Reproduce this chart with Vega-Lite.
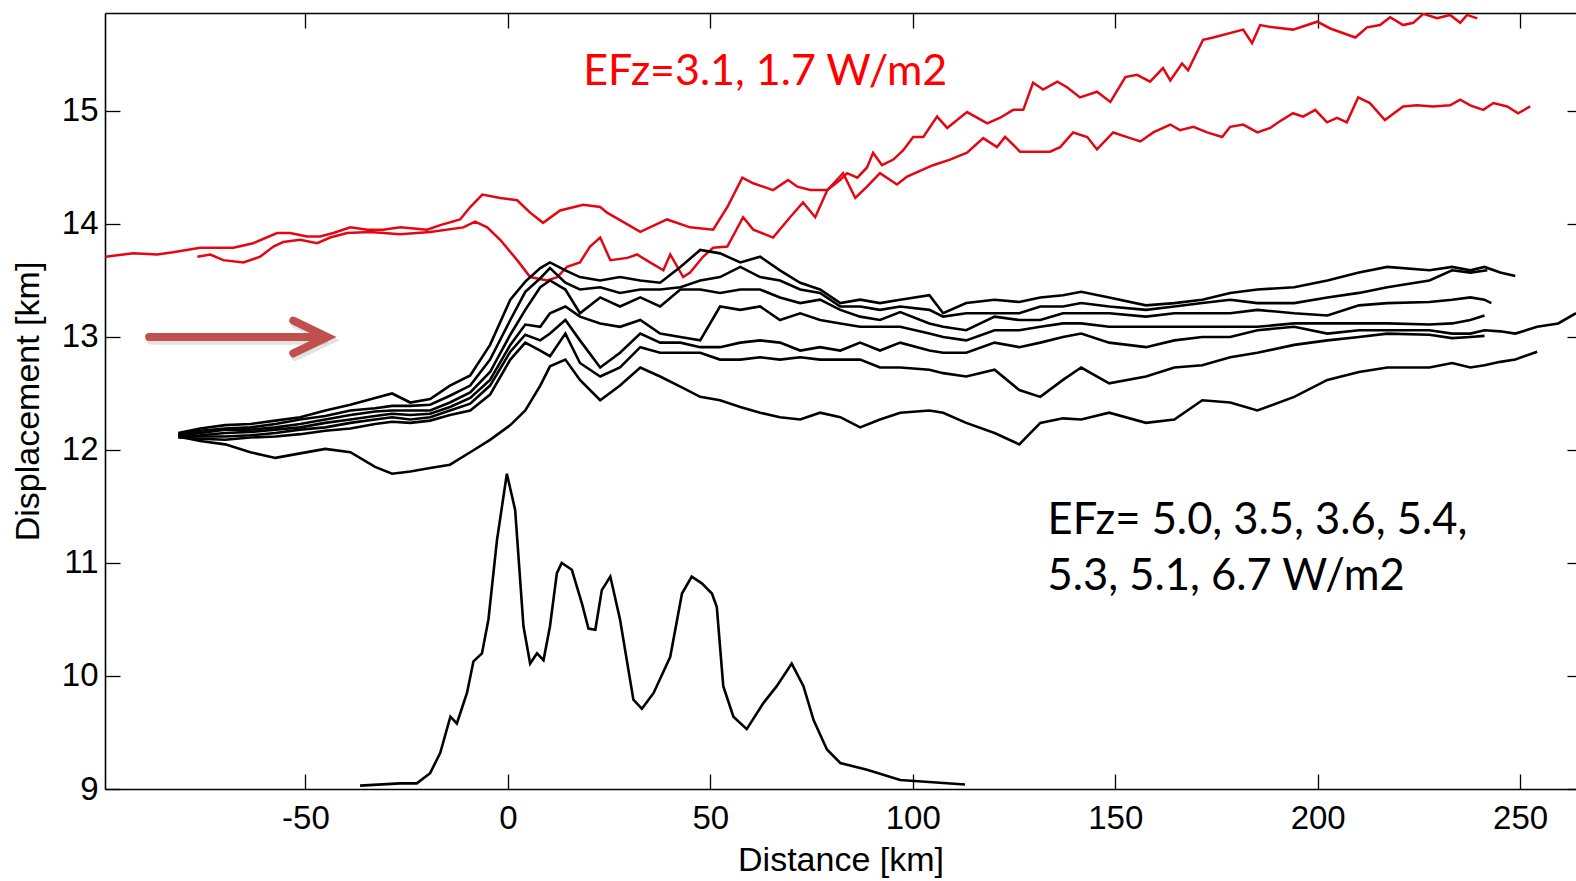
{
  "$schema": "https://vega.github.io/schema/vega-lite/v6.json",
  "width": 1471,
  "height": 776,
  "autosize": {"type": "none"},
  "padding": {"left": 105, "top": 13, "right": 0, "bottom": 92},
  "background": "white",
  "config": {"view": {"stroke": null}},
  "datasets": {
    "red": [
      {"s":"a","x":-99.4,"y":13.71},{"s":"a","x":-92.5,"y":13.74},{"s":"a","x":-86.6,"y":13.73},{"s":"a","x":-82.7,"y":13.75},{"s":"a","x":-76.0,"y":13.79},{"s":"a","x":-67.8,"y":13.79},{"s":"a","x":-62.9,"y":13.83},{"s":"a","x":-57.0,"y":13.92},{"s":"a","x":-53.8,"y":13.92},{"s":"a","x":-49.6,"y":13.89},{"s":"a","x":-46.4,"y":13.89},{"s":"a","x":-43.1,"y":13.92},{"s":"a","x":-38.9,"y":13.97},{"s":"a","x":-34.7,"y":13.95},{"s":"a","x":-30.8,"y":13.95},{"s":"a","x":-26.6,"y":13.97},{"s":"a","x":-19.9,"y":13.95},{"s":"a","x":-16.7,"y":13.99},{"s":"a","x":-11.8,"y":14.04},{"s":"a","x":-9.3,"y":14.15},{"s":"a","x":-6.3,"y":14.26},{"s":"a","x":-1.9,"y":14.23},{"s":"a","x":2.3,"y":14.21},{"s":"a","x":5.5,"y":14.10},{"s":"a","x":8.7,"y":14.01},{"s":"a","x":12.9,"y":14.12},{"s":"a","x":18.6,"y":14.17},{"s":"a","x":22.8,"y":14.15},{"s":"a","x":24.5,"y":14.10},{"s":"a","x":32.7,"y":13.93},{"s":"a","x":39.3,"y":14.04},{"s":"a","x":45.0,"y":13.97},{"s":"a","x":50.7,"y":13.95},{"s":"a","x":54.2,"y":14.15},{"s":"a","x":57.9,"y":14.41},{"s":"a","x":60.6,"y":14.36},{"s":"a","x":65.5,"y":14.30},{"s":"a","x":69.2,"y":14.39},{"s":"a","x":71.5,"y":14.33},{"s":"a","x":74.7,"y":14.30},{"s":"a","x":78.9,"y":14.30},{"s":"a","x":82.1,"y":14.39},{"s":"a","x":83.8,"y":14.45},{"s":"a","x":86.3,"y":14.41},{"s":"a","x":88.7,"y":14.50},{"s":"a","x":90.2,"y":14.63},{"s":"a","x":92.4,"y":14.52},{"s":"a","x":95.2,"y":14.57},{"s":"a","x":97.6,"y":14.65},{"s":"a","x":100.1,"y":14.77},{"s":"a","x":102.6,"y":14.77},{"s":"a","x":106.0,"y":14.95},{"s":"a","x":108.5,"y":14.85},{"s":"a","x":113.4,"y":14.99},{"s":"a","x":118.4,"y":14.89},{"s":"a","x":121.6,"y":14.94},{"s":"a","x":124.8,"y":15.01},{"s":"a","x":127.3,"y":15.01},{"s":"a","x":129.7,"y":15.25},{"s":"a","x":132.2,"y":15.19},{"s":"a","x":135.7,"y":15.26},{"s":"a","x":138.1,"y":15.21},{"s":"a","x":141.3,"y":15.12},{"s":"a","x":145.5,"y":15.17},{"s":"a","x":148.8,"y":15.08},{"s":"a","x":152.5,"y":15.30},{"s":"a","x":155.4,"y":15.32},{"s":"a","x":158.6,"y":15.26},{"s":"a","x":161.8,"y":15.38},{"s":"a","x":163.6,"y":15.27},{"s":"a","x":166.5,"y":15.42},{"s":"a","x":168.0,"y":15.36},{"s":"a","x":171.7,"y":15.63},{"s":"a","x":174.2,"y":15.65},{"s":"a","x":181.6,"y":15.72},{"s":"a","x":183.8,"y":15.60},{"s":"a","x":185.8,"y":15.76},{"s":"a","x":189.0,"y":15.74},{"s":"a","x":193.9,"y":15.72},{"s":"a","x":199.9,"y":15.79},{"s":"a","x":203.1,"y":15.73},{"s":"a","x":209.3,"y":15.65},{"s":"a","x":212.2,"y":15.74},{"s":"a","x":215.4,"y":15.76},{"s":"a","x":217.9,"y":15.83},{"s":"a","x":221.1,"y":15.76},{"s":"a","x":223.6,"y":15.78},{"s":"a","x":226.1,"y":15.86},{"s":"a","x":229.5,"y":15.82},{"s":"a","x":232.7,"y":15.85},{"s":"a","x":235.2,"y":15.78},{"s":"a","x":236.9,"y":15.85},{"s":"a","x":239.4,"y":15.82},
      {"s":"b","x":-76.7,"y":13.71},{"s":"b","x":-73.5,"y":13.73},{"s":"b","x":-70.3,"y":13.68},{"s":"b","x":-65.3,"y":13.66},{"s":"b","x":-61.2,"y":13.71},{"s":"b","x":-57.9,"y":13.80},{"s":"b","x":-55.5,"y":13.84},{"s":"b","x":-51.3,"y":13.86},{"s":"b","x":-47.1,"y":13.83},{"s":"b","x":-43.9,"y":13.88},{"s":"b","x":-39.7,"y":13.92},{"s":"b","x":-34.0,"y":13.93},{"s":"b","x":-26.6,"y":13.91},{"s":"b","x":-19.2,"y":13.93},{"s":"b","x":-11.0,"y":13.97},{"s":"b","x":-8.1,"y":14.02},{"s":"b","x":-5.1,"y":13.97},{"s":"b","x":-1.9,"y":13.86},{"s":"b","x":2.3,"y":13.68},{"s":"b","x":5.5,"y":13.53},{"s":"b","x":9.7,"y":13.50},{"s":"b","x":12.2,"y":13.53},{"s":"b","x":14.6,"y":13.62},{"s":"b","x":17.8,"y":13.66},{"s":"b","x":20.3,"y":13.80},{"s":"b","x":22.8,"y":13.88},{"s":"b","x":25.3,"y":13.68},{"s":"b","x":29.5,"y":13.70},{"s":"b","x":31.9,"y":13.73},{"s":"b","x":35.1,"y":13.66},{"s":"b","x":38.4,"y":13.59},{"s":"b","x":40.1,"y":13.73},{"s":"b","x":43.3,"y":13.53},{"s":"b","x":45.0,"y":13.57},{"s":"b","x":48.2,"y":13.71},{"s":"b","x":50.7,"y":13.79},{"s":"b","x":54.2,"y":13.80},{"s":"b","x":58.1,"y":14.06},{"s":"b","x":60.6,"y":13.95},{"s":"b","x":65.5,"y":13.88},{"s":"b","x":69.7,"y":14.06},{"s":"b","x":72.9,"y":14.19},{"s":"b","x":75.9,"y":14.06},{"s":"b","x":78.9,"y":14.30},{"s":"b","x":82.8,"y":14.45},{"s":"b","x":85.8,"y":14.23},{"s":"b","x":88.7,"y":14.33},{"s":"b","x":91.9,"y":14.45},{"s":"b","x":96.1,"y":14.35},{"s":"b","x":98.6,"y":14.42},{"s":"b","x":105.0,"y":14.52},{"s":"b","x":109.2,"y":14.57},{"s":"b","x":113.4,"y":14.63},{"s":"b","x":117.4,"y":14.76},{"s":"b","x":120.8,"y":14.68},{"s":"b","x":122.8,"y":14.77},{"s":"b","x":126.5,"y":14.64},{"s":"b","x":133.9,"y":14.64},{"s":"b","x":136.4,"y":14.68},{"s":"b","x":139.6,"y":14.81},{"s":"b","x":143.1,"y":14.77},{"s":"b","x":145.5,"y":14.66},{"s":"b","x":149.5,"y":14.81},{"s":"b","x":153.7,"y":14.76},{"s":"b","x":156.2,"y":14.73},{"s":"b","x":159.4,"y":14.81},{"s":"b","x":163.6,"y":14.88},{"s":"b","x":166.0,"y":14.83},{"s":"b","x":169.3,"y":14.86},{"s":"b","x":172.7,"y":14.81},{"s":"b","x":176.4,"y":14.77},{"s":"b","x":178.4,"y":14.86},{"s":"b","x":181.6,"y":14.88},{"s":"b","x":185.1,"y":14.81},{"s":"b","x":188.3,"y":14.85},{"s":"b","x":190.3,"y":14.90},{"s":"b","x":193.9,"y":14.98},{"s":"b","x":196.4,"y":14.95},{"s":"b","x":199.4,"y":15.01},{"s":"b","x":202.3,"y":14.90},{"s":"b","x":204.8,"y":14.94},{"s":"b","x":207.2,"y":14.90},{"s":"b","x":210.0,"y":15.12},{"s":"b","x":212.9,"y":15.07},{"s":"b","x":216.6,"y":14.92},{"s":"b","x":221.1,"y":15.04},{"s":"b","x":224.5,"y":15.05},{"s":"b","x":228.5,"y":15.04},{"s":"b","x":232.7,"y":15.05},{"s":"b","x":235.2,"y":15.10},{"s":"b","x":237.7,"y":15.05},{"s":"b","x":240.9,"y":15.01},{"s":"b","x":243.4,"y":15.07},{"s":"b","x":246.8,"y":15.04},{"s":"b","x":249.5,"y":14.98},{"s":"b","x":252.5,"y":15.04}
    ],
    "blk": [
      {"s":"k1","x":-81.4,"y":12.15},{"s":"k1","x":-76.0,"y":12.19},{"s":"k1","x":-69.8,"y":12.22},{"s":"k1","x":-63.6,"y":12.23},{"s":"k1","x":-57.4,"y":12.26},{"s":"k1","x":-51.3,"y":12.29},{"s":"k1","x":-45.1,"y":12.35},{"s":"k1","x":-38.9,"y":12.40},{"s":"k1","x":-32.8,"y":12.46},{"s":"k1","x":-28.6,"y":12.50},{"s":"k1","x":-24.1,"y":12.42},{"s":"k1","x":-19.2,"y":12.45},{"s":"k1","x":-14.3,"y":12.57},{"s":"k1","x":-9.3,"y":12.66},{"s":"k1","x":-4.4,"y":12.93},{"s":"k1","x":0.6,"y":13.33},{"s":"k1","x":4.3,"y":13.49},{"s":"k1","x":8.0,"y":13.61},{"s":"k1","x":10.4,"y":13.66},{"s":"k1","x":14.2,"y":13.59},{"s":"k1","x":17.8,"y":13.53},{"s":"k1","x":22.8,"y":13.50},{"s":"k1","x":27.7,"y":13.53},{"s":"k1","x":32.7,"y":13.50},{"s":"k1","x":37.6,"y":13.48},{"s":"k1","x":42.6,"y":13.62},{"s":"k1","x":47.5,"y":13.77},{"s":"k1","x":52.4,"y":13.74},{"s":"k1","x":57.4,"y":13.66},{"s":"k1","x":62.3,"y":13.71},{"s":"k1","x":67.2,"y":13.59},{"s":"k1","x":72.2,"y":13.48},{"s":"k1","x":77.1,"y":13.42},{"s":"k1","x":82.1,"y":13.30},{"s":"k1","x":87.0,"y":13.33},{"s":"k1","x":91.9,"y":13.30},{"s":"k1","x":96.9,"y":13.33},{"s":"k1","x":104.1,"y":13.37},{"s":"k1","x":107.5,"y":13.21},{"s":"k1","x":113.2,"y":13.30},{"s":"k1","x":120.2,"y":13.33},{"s":"k1","x":126.3,"y":13.31},{"s":"k1","x":131.5,"y":13.35},{"s":"k1","x":137.1,"y":13.37},{"s":"k1","x":141.6,"y":13.40},{"s":"k1","x":148.5,"y":13.35},{"s":"k1","x":157.6,"y":13.28},{"s":"k1","x":164.6,"y":13.30},{"s":"k1","x":171.5,"y":13.33},{"s":"k1","x":178.4,"y":13.39},{"s":"k1","x":185.1,"y":13.42},{"s":"k1","x":194.2,"y":13.44},{"s":"k1","x":202.4,"y":13.50},{"s":"k1","x":210.2,"y":13.57},{"s":"k1","x":217.2,"y":13.62},{"s":"k1","x":227.6,"y":13.59},{"s":"k1","x":233.2,"y":13.62},{"s":"k1","x":237.7,"y":13.59},{"s":"k1","x":241.2,"y":13.62},{"s":"k1","x":245.1,"y":13.57},{"s":"k1","x":248.8,"y":13.54},
      {"s":"k2","x":-81.4,"y":12.14},{"s":"k2","x":-76.0,"y":12.17},{"s":"k2","x":-69.8,"y":12.19},{"s":"k2","x":-63.6,"y":12.20},{"s":"k2","x":-57.4,"y":12.23},{"s":"k2","x":-51.3,"y":12.27},{"s":"k2","x":-45.1,"y":12.30},{"s":"k2","x":-38.9,"y":12.35},{"s":"k2","x":-32.8,"y":12.37},{"s":"k2","x":-28.6,"y":12.39},{"s":"k2","x":-24.1,"y":12.39},{"s":"k2","x":-19.2,"y":12.40},{"s":"k2","x":-14.3,"y":12.48},{"s":"k2","x":-9.3,"y":12.57},{"s":"k2","x":-4.4,"y":12.80},{"s":"k2","x":0.6,"y":13.15},{"s":"k2","x":4.3,"y":13.40},{"s":"k2","x":8.0,"y":13.52},{"s":"k2","x":10.4,"y":13.61},{"s":"k2","x":14.2,"y":13.48},{"s":"k2","x":17.8,"y":13.42},{"s":"k2","x":22.8,"y":13.44},{"s":"k2","x":27.7,"y":13.39},{"s":"k2","x":32.7,"y":13.42},{"s":"k2","x":37.6,"y":13.42},{"s":"k2","x":42.6,"y":13.44},{"s":"k2","x":47.5,"y":13.50},{"s":"k2","x":52.4,"y":13.53},{"s":"k2","x":57.4,"y":13.62},{"s":"k2","x":62.3,"y":13.53},{"s":"k2","x":67.2,"y":13.50},{"s":"k2","x":72.2,"y":13.42},{"s":"k2","x":77.1,"y":13.39},{"s":"k2","x":82.1,"y":13.27},{"s":"k2","x":87.0,"y":13.27},{"s":"k2","x":91.9,"y":13.24},{"s":"k2","x":96.9,"y":13.27},{"s":"k2","x":104.1,"y":13.24},{"s":"k2","x":107.5,"y":13.18},{"s":"k2","x":113.2,"y":13.21},{"s":"k2","x":120.2,"y":13.21},{"s":"k2","x":126.3,"y":13.21},{"s":"k2","x":131.5,"y":13.27},{"s":"k2","x":137.1,"y":13.27},{"s":"k2","x":141.6,"y":13.30},{"s":"k2","x":148.5,"y":13.27},{"s":"k2","x":157.6,"y":13.24},{"s":"k2","x":164.6,"y":13.27},{"s":"k2","x":171.5,"y":13.30},{"s":"k2","x":178.4,"y":13.33},{"s":"k2","x":185.1,"y":13.30},{"s":"k2","x":194.2,"y":13.30},{"s":"k2","x":202.4,"y":13.35},{"s":"k2","x":210.2,"y":13.39},{"s":"k2","x":217.2,"y":13.44},{"s":"k2","x":227.6,"y":13.50},{"s":"k2","x":233.2,"y":13.59},{"s":"k2","x":237.7,"y":13.57},{"s":"k2","x":241.9,"y":13.59},
      {"s":"k3","x":-81.4,"y":12.13},{"s":"k3","x":-76.0,"y":12.15},{"s":"k3","x":-69.8,"y":12.18},{"s":"k3","x":-63.6,"y":12.18},{"s":"k3","x":-57.4,"y":12.20},{"s":"k3","x":-51.3,"y":12.23},{"s":"k3","x":-45.1,"y":12.27},{"s":"k3","x":-38.9,"y":12.31},{"s":"k3","x":-32.8,"y":12.34},{"s":"k3","x":-28.6,"y":12.35},{"s":"k3","x":-24.1,"y":12.35},{"s":"k3","x":-19.2,"y":12.35},{"s":"k3","x":-14.3,"y":12.42},{"s":"k3","x":-9.3,"y":12.51},{"s":"k3","x":-4.4,"y":12.69},{"s":"k3","x":0.6,"y":13.02},{"s":"k3","x":4.3,"y":13.24},{"s":"k3","x":8.0,"y":13.44},{"s":"k3","x":10.4,"y":13.50},{"s":"k3","x":14.2,"y":13.42},{"s":"k3","x":17.8,"y":13.21},{"s":"k3","x":22.8,"y":13.35},{"s":"k3","x":27.7,"y":13.27},{"s":"k3","x":32.7,"y":13.35},{"s":"k3","x":37.6,"y":13.27},{"s":"k3","x":42.6,"y":13.42},{"s":"k3","x":47.5,"y":13.42},{"s":"k3","x":52.4,"y":13.39},{"s":"k3","x":57.4,"y":13.42},{"s":"k3","x":62.3,"y":13.42},{"s":"k3","x":67.2,"y":13.35},{"s":"k3","x":72.2,"y":13.30},{"s":"k3","x":77.1,"y":13.33},{"s":"k3","x":82.1,"y":13.24},{"s":"k3","x":87.0,"y":13.18},{"s":"k3","x":91.9,"y":13.15},{"s":"k3","x":96.9,"y":13.22},{"s":"k3","x":104.1,"y":13.12},{"s":"k3","x":107.5,"y":13.09},{"s":"k3","x":113.2,"y":13.06},{"s":"k3","x":120.2,"y":13.18},{"s":"k3","x":126.3,"y":13.15},{"s":"k3","x":131.5,"y":13.15},{"s":"k3","x":137.1,"y":13.21},{"s":"k3","x":141.6,"y":13.21},{"s":"k3","x":148.5,"y":13.21},{"s":"k3","x":157.6,"y":13.18},{"s":"k3","x":164.6,"y":13.21},{"s":"k3","x":171.5,"y":13.21},{"s":"k3","x":178.4,"y":13.21},{"s":"k3","x":185.1,"y":13.24},{"s":"k3","x":194.2,"y":13.21},{"s":"k3","x":202.4,"y":13.19},{"s":"k3","x":210.2,"y":13.28},{"s":"k3","x":217.2,"y":13.30},{"s":"k3","x":227.6,"y":13.31},{"s":"k3","x":233.2,"y":13.33},{"s":"k3","x":237.7,"y":13.35},{"s":"k3","x":241.2,"y":13.33},{"s":"k3","x":242.9,"y":13.30},
      {"s":"k4","x":-81.4,"y":12.12},{"s":"k4","x":-76.0,"y":12.13},{"s":"k4","x":-69.8,"y":12.15},{"s":"k4","x":-63.6,"y":12.16},{"s":"k4","x":-57.4,"y":12.18},{"s":"k4","x":-51.3,"y":12.20},{"s":"k4","x":-45.1,"y":12.24},{"s":"k4","x":-38.9,"y":12.27},{"s":"k4","x":-32.8,"y":12.30},{"s":"k4","x":-28.6,"y":12.32},{"s":"k4","x":-24.1,"y":12.31},{"s":"k4","x":-19.2,"y":12.32},{"s":"k4","x":-14.3,"y":12.38},{"s":"k4","x":-9.3,"y":12.46},{"s":"k4","x":-4.4,"y":12.62},{"s":"k4","x":0.6,"y":12.93},{"s":"k4","x":4.3,"y":13.11},{"s":"k4","x":8.0,"y":13.09},{"s":"k4","x":10.4,"y":13.21},{"s":"k4","x":14.2,"y":13.27},{"s":"k4","x":17.8,"y":13.18},{"s":"k4","x":22.8,"y":13.12},{"s":"k4","x":27.7,"y":13.09},{"s":"k4","x":32.7,"y":13.15},{"s":"k4","x":37.6,"y":13.03},{"s":"k4","x":42.6,"y":13.00},{"s":"k4","x":47.5,"y":12.97},{"s":"k4","x":52.4,"y":13.27},{"s":"k4","x":57.4,"y":13.24},{"s":"k4","x":62.3,"y":13.27},{"s":"k4","x":67.2,"y":13.15},{"s":"k4","x":72.2,"y":13.21},{"s":"k4","x":77.1,"y":13.15},{"s":"k4","x":82.1,"y":13.12},{"s":"k4","x":87.0,"y":13.09},{"s":"k4","x":91.9,"y":13.09},{"s":"k4","x":96.9,"y":13.09},{"s":"k4","x":104.1,"y":13.03},{"s":"k4","x":107.5,"y":13.00},{"s":"k4","x":113.2,"y":12.97},{"s":"k4","x":120.2,"y":13.06},{"s":"k4","x":126.3,"y":13.06},{"s":"k4","x":131.5,"y":13.09},{"s":"k4","x":137.1,"y":13.12},{"s":"k4","x":141.6,"y":13.12},{"s":"k4","x":148.5,"y":13.09},{"s":"k4","x":157.6,"y":13.09},{"s":"k4","x":164.6,"y":13.09},{"s":"k4","x":171.5,"y":13.09},{"s":"k4","x":178.4,"y":13.09},{"s":"k4","x":185.1,"y":13.09},{"s":"k4","x":194.2,"y":13.12},{"s":"k4","x":202.4,"y":13.12},{"s":"k4","x":210.2,"y":13.12},{"s":"k4","x":217.2,"y":13.12},{"s":"k4","x":227.6,"y":13.11},{"s":"k4","x":233.2,"y":13.12},{"s":"k4","x":237.7,"y":13.15},{"s":"k4","x":241.2,"y":13.19},
      {"s":"k5","x":-81.4,"y":12.12},{"s":"k5","x":-76.0,"y":12.12},{"s":"k5","x":-69.8,"y":12.12},{"s":"k5","x":-63.6,"y":12.13},{"s":"k5","x":-57.4,"y":12.15},{"s":"k5","x":-51.3,"y":12.18},{"s":"k5","x":-45.1,"y":12.20},{"s":"k5","x":-38.9,"y":12.24},{"s":"k5","x":-32.8,"y":12.27},{"s":"k5","x":-28.6,"y":12.29},{"s":"k5","x":-24.1,"y":12.27},{"s":"k5","x":-19.2,"y":12.29},{"s":"k5","x":-14.3,"y":12.35},{"s":"k5","x":-9.3,"y":12.41},{"s":"k5","x":-4.4,"y":12.57},{"s":"k5","x":0.6,"y":12.87},{"s":"k5","x":4.3,"y":13.02},{"s":"k5","x":8.0,"y":12.97},{"s":"k5","x":10.4,"y":13.03},{"s":"k5","x":14.2,"y":13.15},{"s":"k5","x":17.8,"y":12.97},{"s":"k5","x":22.8,"y":12.73},{"s":"k5","x":27.7,"y":12.86},{"s":"k5","x":32.7,"y":13.03},{"s":"k5","x":37.6,"y":12.95},{"s":"k5","x":42.6,"y":12.95},{"s":"k5","x":47.5,"y":12.91},{"s":"k5","x":52.4,"y":12.91},{"s":"k5","x":57.4,"y":12.95},{"s":"k5","x":62.3,"y":12.97},{"s":"k5","x":67.2,"y":12.95},{"s":"k5","x":72.2,"y":12.88},{"s":"k5","x":77.1,"y":12.91},{"s":"k5","x":82.1,"y":12.88},{"s":"k5","x":87.0,"y":12.95},{"s":"k5","x":91.9,"y":12.88},{"s":"k5","x":96.9,"y":12.95},{"s":"k5","x":104.1,"y":12.88},{"s":"k5","x":107.5,"y":12.86},{"s":"k5","x":113.2,"y":12.86},{"s":"k5","x":120.2,"y":12.95},{"s":"k5","x":126.3,"y":12.91},{"s":"k5","x":131.5,"y":12.95},{"s":"k5","x":137.1,"y":13.00},{"s":"k5","x":141.6,"y":13.03},{"s":"k5","x":148.5,"y":12.95},{"s":"k5","x":157.6,"y":12.91},{"s":"k5","x":164.6,"y":12.97},{"s":"k5","x":171.5,"y":13.00},{"s":"k5","x":178.4,"y":13.00},{"s":"k5","x":185.1,"y":13.06},{"s":"k5","x":194.2,"y":13.09},{"s":"k5","x":202.4,"y":13.03},{"s":"k5","x":210.2,"y":13.06},{"s":"k5","x":217.2,"y":13.06},{"s":"k5","x":227.6,"y":13.06},{"s":"k5","x":233.2,"y":13.03},{"s":"k5","x":237.7,"y":13.03},{"s":"k5","x":241.2,"y":13.06},{"s":"k5","x":245.1,"y":13.05},{"s":"k5","x":248.8,"y":13.03},{"s":"k5","x":254.2,"y":13.09},{"s":"k5","x":259.4,"y":13.12},{"s":"k5","x":263.8,"y":13.21},
      {"s":"k6","x":-81.4,"y":12.11},{"s":"k6","x":-76.0,"y":12.10},{"s":"k6","x":-69.8,"y":12.09},{"s":"k6","x":-63.6,"y":12.11},{"s":"k6","x":-57.4,"y":12.12},{"s":"k6","x":-51.3,"y":12.14},{"s":"k6","x":-45.1,"y":12.17},{"s":"k6","x":-38.9,"y":12.19},{"s":"k6","x":-32.8,"y":12.23},{"s":"k6","x":-28.6,"y":12.25},{"s":"k6","x":-24.1,"y":12.24},{"s":"k6","x":-19.2,"y":12.26},{"s":"k6","x":-14.3,"y":12.31},{"s":"k6","x":-9.3,"y":12.35},{"s":"k6","x":-4.4,"y":12.49},{"s":"k6","x":0.6,"y":12.80},{"s":"k6","x":4.3,"y":12.95},{"s":"k6","x":8.0,"y":12.88},{"s":"k6","x":10.4,"y":12.83},{"s":"k6","x":14.2,"y":13.03},{"s":"k6","x":17.8,"y":12.77},{"s":"k6","x":22.8,"y":12.65},{"s":"k6","x":27.7,"y":12.73},{"s":"k6","x":32.7,"y":12.91},{"s":"k6","x":37.6,"y":12.86},{"s":"k6","x":42.6,"y":12.86},{"s":"k6","x":47.5,"y":12.86},{"s":"k6","x":52.4,"y":12.80},{"s":"k6","x":57.4,"y":12.80},{"s":"k6","x":62.3,"y":12.82},{"s":"k6","x":67.2,"y":12.80},{"s":"k6","x":72.2,"y":12.82},{"s":"k6","x":77.1,"y":12.80},{"s":"k6","x":82.1,"y":12.80},{"s":"k6","x":87.0,"y":12.80},{"s":"k6","x":91.9,"y":12.73},{"s":"k6","x":96.9,"y":12.73},{"s":"k6","x":104.1,"y":12.71},{"s":"k6","x":107.5,"y":12.68},{"s":"k6","x":113.2,"y":12.65},{"s":"k6","x":120.2,"y":12.71},{"s":"k6","x":126.3,"y":12.53},{"s":"k6","x":131.5,"y":12.47},{"s":"k6","x":137.1,"y":12.62},{"s":"k6","x":141.6,"y":12.73},{"s":"k6","x":148.5,"y":12.59},{"s":"k6","x":157.6,"y":12.65},{"s":"k6","x":164.6,"y":12.73},{"s":"k6","x":171.5,"y":12.75},{"s":"k6","x":178.4,"y":12.82},{"s":"k6","x":185.1,"y":12.86},{"s":"k6","x":194.2,"y":12.93},{"s":"k6","x":202.4,"y":12.97},{"s":"k6","x":210.2,"y":13.00},{"s":"k6","x":217.2,"y":13.03},{"s":"k6","x":227.6,"y":13.02},{"s":"k6","x":233.2,"y":12.99},{"s":"k6","x":237.7,"y":13.00},{"s":"k6","x":241.2,"y":13.01},
      {"s":"k7","x":-81.4,"y":12.12},{"s":"k7","x":-76.0,"y":12.08},{"s":"k7","x":-69.8,"y":12.05},{"s":"k7","x":-63.6,"y":11.98},{"s":"k7","x":-57.4,"y":11.93},{"s":"k7","x":-51.3,"y":11.97},{"s":"k7","x":-45.1,"y":12.01},{"s":"k7","x":-38.9,"y":11.98},{"s":"k7","x":-32.8,"y":11.85},{"s":"k7","x":-28.6,"y":11.79},{"s":"k7","x":-24.1,"y":11.81},{"s":"k7","x":-19.2,"y":11.84},{"s":"k7","x":-14.3,"y":11.87},{"s":"k7","x":-9.3,"y":11.98},{"s":"k7","x":-4.4,"y":12.09},{"s":"k7","x":0.6,"y":12.22},{"s":"k7","x":4.3,"y":12.35},{"s":"k7","x":8.0,"y":12.57},{"s":"k7","x":10.4,"y":12.74},{"s":"k7","x":14.2,"y":12.80},{"s":"k7","x":17.8,"y":12.62},{"s":"k7","x":22.8,"y":12.44},{"s":"k7","x":27.7,"y":12.57},{"s":"k7","x":32.7,"y":12.73},{"s":"k7","x":37.6,"y":12.65},{"s":"k7","x":42.6,"y":12.56},{"s":"k7","x":47.5,"y":12.47},{"s":"k7","x":52.4,"y":12.44},{"s":"k7","x":57.4,"y":12.38},{"s":"k7","x":62.3,"y":12.33},{"s":"k7","x":67.2,"y":12.29},{"s":"k7","x":72.2,"y":12.27},{"s":"k7","x":77.1,"y":12.33},{"s":"k7","x":82.1,"y":12.29},{"s":"k7","x":87.0,"y":12.20},{"s":"k7","x":91.9,"y":12.27},{"s":"k7","x":96.9,"y":12.33},{"s":"k7","x":104.1,"y":12.35},{"s":"k7","x":107.5,"y":12.33},{"s":"k7","x":113.2,"y":12.24},{"s":"k7","x":120.2,"y":12.15},{"s":"k7","x":126.3,"y":12.05},{"s":"k7","x":131.5,"y":12.24},{"s":"k7","x":137.1,"y":12.28},{"s":"k7","x":141.6,"y":12.27},{"s":"k7","x":148.5,"y":12.33},{"s":"k7","x":157.6,"y":12.24},{"s":"k7","x":164.6,"y":12.27},{"s":"k7","x":171.5,"y":12.44},{"s":"k7","x":178.4,"y":12.42},{"s":"k7","x":185.1,"y":12.35},{"s":"k7","x":194.2,"y":12.47},{"s":"k7","x":202.4,"y":12.62},{"s":"k7","x":210.2,"y":12.69},{"s":"k7","x":217.2,"y":12.73},{"s":"k7","x":227.6,"y":12.73},{"s":"k7","x":233.2,"y":12.77},{"s":"k7","x":237.7,"y":12.73},{"s":"k7","x":241.2,"y":12.75},{"s":"k7","x":245.1,"y":12.78},{"s":"k7","x":248.8,"y":12.80},{"s":"k7","x":254.2,"y":12.87}
    ],
    "topo": [
      {"x":-36.5,"y":9.03},{"x":-26.6,"y":9.05},{"x":-22.5,"y":9.05},{"x":-19.2,"y":9.14},{"x":-16.7,"y":9.32},{"x":-14.2,"y":9.64},{"x":-12.6,"y":9.58},{"x":-10.1,"y":9.85},{"x":-8.5,"y":10.13},{"x":-6.4,"y":10.20},{"x":-4.8,"y":10.50},{"x":-2.7,"y":11.20},{"x":-0.25,"y":11.79},{"x":1.8,"y":11.47},{"x":3.85,"y":10.44},{"x":5.5,"y":10.11},{"x":7.2,"y":10.20},{"x":8.8,"y":10.14},{"x":10.4,"y":10.44},{"x":12.1,"y":10.91},{"x":13.3,"y":11.0},{"x":15.8,"y":10.94},{"x":18.3,"y":10.64},{"x":19.9,"y":10.42},{"x":21.6,"y":10.41},{"x":23.2,"y":10.76},{"x":25.3,"y":10.88},{"x":27.7,"y":10.50},{"x":31.0,"y":9.79},{"x":33.1,"y":9.71},{"x":36.0,"y":9.85},{"x":40.1,"y":10.17},{"x":43.0,"y":10.73},{"x":45.4,"y":10.88},{"x":47.9,"y":10.82},{"x":50.4,"y":10.73},{"x":51.6,"y":10.61},{"x":53.2,"y":9.91},{"x":55.7,"y":9.64},{"x":59.0,"y":9.53},{"x":63.1,"y":9.76},{"x":66.4,"y":9.91},{"x":70.1,"y":10.11},{"x":73.0,"y":9.91},{"x":75.5,"y":9.61},{"x":78.8,"y":9.35},{"x":82.1,"y":9.23},{"x":88.7,"y":9.17},{"x":96.9,"y":9.08},{"x":112.9,"y":9.04}
    ],
    "arrow": [
      {"p":"shaft","i":0,"x":-88.6,"y":13.0},{"p":"shaft","i":1,"x":-46.0,"y":13.0},
      {"p":"head","i":0,"x":-53.0,"y":13.145},{"p":"head","i":1,"x":-44.6,"y":13.0},{"p":"head","i":2,"x":-53.0,"y":12.855}
    ],
    "shadow": [
      {"p":"shaft","i":0,"x":-88.1,"y":12.972},{"p":"shaft","i":1,"x":-45.5,"y":12.972},
      {"p":"head","i":0,"x":-52.5,"y":13.117},{"p":"head","i":1,"x":-44.1,"y":12.972},{"p":"head","i":2,"x":-52.5,"y":12.827}
    ],
    "redtxt": [{"t":"EFz=3.1, 1.7 W/m2","x":18.6,"y":15.23}],
    "blktxt": [
      {"t":"EFz= 5.0, 3.5, 3.6, 5.4,","x":133.3,"y":11.26},
      {"t":"5.3, 5.1, 6.7 W/m2","x":133.3,"y":10.76}
    ]
  },
  "resolve": {"axis": {"x": "independent", "y": "independent"}},
  "layer": [
    {
      "data": {"name": "red"},
      "mark": {"type": "line", "color": "#e30613", "strokeWidth": 2.5, "clip": true},
      "encoding": {
        "x": {"field": "x", "type": "quantitative",
          "scale": {"domain": [-99.5, 263.8], "nice": false, "zero": false},
          "axis": {"orient": "bottom", "values": [-50, 0, 50, 100, 150, 200, 250], "grid": false,
            "labelExpr": "'' + datum.value",
            "tickSize": -15, "tickColor": "black", "tickWidth": 1.3,
            "domainColor": "black", "domainWidth": 1.6,
            "labelFont": "Liberation Sans", "labelFontSize": 33, "labelColor": "black", "labelPadding": 28, "labelFlush": false, "labelOverlap": false,
            "title": "Distance [km]", "titleFont": "Liberation Sans", "titleFontSize": 34, "titleFontWeight": "normal", "titleColor": "black", "titlePadding": 8}},
        "y": {"field": "y", "type": "quantitative",
          "scale": {"domain": [9, 15.867], "nice": false, "zero": false},
          "axis": {"orient": "left", "values": [9, 10, 11, 12, 13, 14, 15], "grid": false,
            "tickSize": -15, "tickColor": "black", "tickWidth": 1.3,
            "domainColor": "black", "domainWidth": 1.6,
            "labelFont": "Liberation Sans", "labelFontSize": 33, "labelColor": "black", "labelPadding": 22, "labelFlush": false, "labelOverlap": false,
            "title": "Displacement [km]", "titleFont": "Liberation Sans", "titleFontSize": 34, "titleFontWeight": "normal", "titleColor": "black", "titlePadding": 16}},
        "detail": {"field": "s"}
      }
    },
    {
      "data": {"name": "blk"},
      "mark": {"type": "line", "color": "black", "strokeWidth": 2.6, "clip": true},
      "encoding": {
        "x": {"field": "x", "type": "quantitative",
          "scale": {"domain": [-99.5, 263.8], "nice": false, "zero": false},
          "axis": {"orient": "top", "values": [-50, 0, 50, 100, 150, 200, 250], "grid": false, "labels": false, "title": null,
            "tickSize": -15, "tickColor": "black", "tickWidth": 1.3, "domainColor": "black", "domainWidth": 1.6}},
        "y": {"field": "y", "type": "quantitative",
          "scale": {"domain": [9, 15.867], "nice": false, "zero": false},
          "axis": {"orient": "right", "values": [9, 10, 11, 12, 13, 14, 15], "grid": false, "labels": false, "title": null,
            "tickSize": -9, "tickColor": "black", "tickWidth": 1.3, "domain": false}},
        "detail": {"field": "s"}
      }
    },
    {
      "data": {"name": "topo"},
      "mark": {"type": "line", "color": "black", "strokeWidth": 2.6},
      "encoding": {
        "x": {"field": "x", "type": "quantitative", "scale": {"domain": [-99.5, 263.8], "nice": false, "zero": false}, "axis": null},
        "y": {"field": "y", "type": "quantitative", "scale": {"domain": [9, 15.867], "nice": false, "zero": false}, "axis": null}
      }
    },
    {
      "data": {"name": "shadow"},
      "mark": {"type": "line", "color": "#8a8a8a", "opacity": 0.25, "strokeWidth": 9, "strokeCap": "round", "strokeJoin": "miter"},
      "encoding": {
        "x": {"field": "x", "type": "quantitative", "scale": {"domain": [-99.5, 263.8], "nice": false, "zero": false}, "axis": null},
        "y": {"field": "y", "type": "quantitative", "scale": {"domain": [9, 15.867], "nice": false, "zero": false}, "axis": null},
        "detail": {"field": "p"},
        "order": {"field": "i"}
      }
    },
    {
      "data": {"name": "arrow"},
      "mark": {"type": "line", "color": "#c0504d", "strokeWidth": 8, "strokeCap": "round", "strokeJoin": "miter"},
      "encoding": {
        "x": {"field": "x", "type": "quantitative", "scale": {"domain": [-99.5, 263.8], "nice": false, "zero": false}, "axis": null},
        "y": {"field": "y", "type": "quantitative", "scale": {"domain": [9, 15.867], "nice": false, "zero": false}, "axis": null},
        "detail": {"field": "p"},
        "order": {"field": "i"}
      }
    },
    {
      "data": {"name": "redtxt"},
      "mark": {"type": "text", "align": "left", "baseline": "alphabetic", "font": "Lato", "fontSize": 43, "color": "#ff0000"},
      "encoding": {
        "x": {"field": "x", "type": "quantitative", "scale": {"domain": [-99.5, 263.8], "nice": false, "zero": false}, "axis": null},
        "y": {"field": "y", "type": "quantitative", "scale": {"domain": [9, 15.867], "nice": false, "zero": false}, "axis": null},
        "text": {"field": "t"}
      }
    },
    {
      "data": {"name": "blktxt"},
      "mark": {"type": "text", "align": "left", "baseline": "alphabetic", "font": "Lato", "fontSize": 43.5, "color": "black"},
      "encoding": {
        "x": {"field": "x", "type": "quantitative", "scale": {"domain": [-99.5, 263.8], "nice": false, "zero": false}, "axis": null},
        "y": {"field": "y", "type": "quantitative", "scale": {"domain": [9, 15.867], "nice": false, "zero": false}, "axis": null},
        "text": {"field": "t"}
      }
    }
  ]
}
